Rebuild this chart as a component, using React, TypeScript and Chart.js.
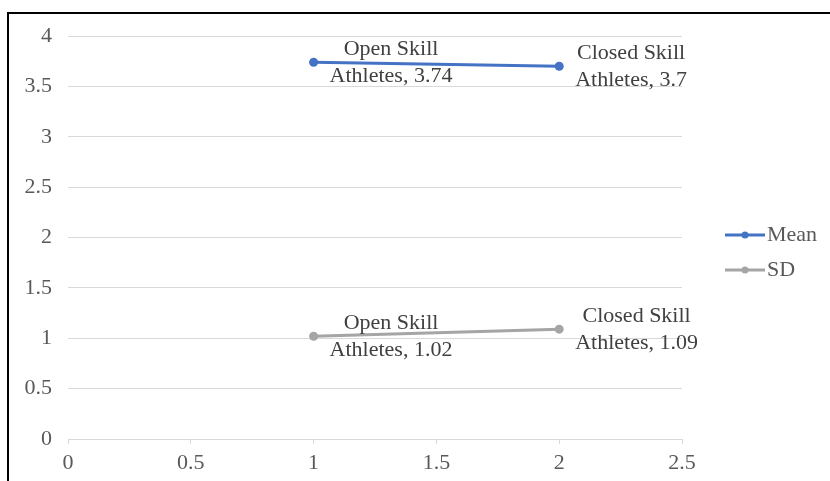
import React, { useEffect, useRef } from "react";
import { Chart, registerables } from "chart.js";

Chart.register(...registerables);

const seriesNames = ["Mean", "SD"];
const categoryNames = ["Open Skill Athletes", "Closed Skill Athletes"];
const xValues = [1, 2];
const meanValues = [3.74, 3.7];
const sdValues = [1.02, 1.09];
const seriesColors = ["#4472C4", "#A5A5A5"];

const FONT = "'Liberation Serif', 'Times New Roman', serif";

const labelPlugin = {
  id: "pointLabels",
  afterDatasetsDraw(chart: any) {
    const ctx = chart.ctx;
    ctx.save();
    ctx.font = `22px ${FONT}`;
    ctx.fillStyle = "#404040";
    ctx.textBaseline = "middle";
    ctx.textAlign = "center";
    chart.data.datasets.forEach((ds: any, di: number) => {
      const meta = chart.getDatasetMeta(di);
      meta.data.forEach((pt: any, i: number) => {
        const words = categoryNames[i].split(" ");
        const l1 = words.slice(0, 2).join(" ");
        const l2 = words.slice(2).join(" ") + ", " + ds.data[i].y;
        const w = Math.max(ctx.measureText(l1).width, ctx.measureText(l2).width);
        const cx = pt.x + 16 + w / 2;
        ctx.fillText(l1, cx, pt.y - 13);
        ctx.fillText(l2, cx, pt.y + 14);
      });
    });
    ctx.restore();
  },
};

const legendPlugin = {
  id: "customLegend",
  afterDraw(chart: any) {
    const ctx = chart.ctx;
    ctx.save();
    ctx.font = `22px ${FONT}`;
    ctx.textBaseline = "middle";
    ctx.textAlign = "left";
    const x0 = 725;
    const ys = [235, 270];
    seriesNames.forEach((name, i) => {
      const y = ys[i];
      ctx.strokeStyle = seriesColors[i];
      ctx.lineWidth = 3;
      ctx.beginPath();
      ctx.moveTo(x0, y);
      ctx.lineTo(x0 + 40, y);
      ctx.stroke();
      ctx.fillStyle = seriesColors[i];
      ctx.beginPath();
      ctx.arc(x0 + 20, y, 3.5, 0, Math.PI * 2);
      ctx.fill();
      ctx.fillStyle = "#595959";
      ctx.fillText(name, x0 + 42, y);
    });
    ctx.restore();
  },
};

const fmt = (v: any) => String(Number(v));

export default function App() {
  const ref = useRef<HTMLCanvasElement>(null);
  useEffect(() => {
    if (!ref.current) return;
    const chart = new Chart(ref.current, {
      type: "line",
      data: {
        datasets: [
          {
            label: seriesNames[0],
            data: xValues.map((x, i) => ({ x, y: meanValues[i] })),
            borderColor: seriesColors[0],
            backgroundColor: seriesColors[0],
            borderWidth: 3,
            pointRadius: 4.5,
            pointBorderWidth: 0,
          },
          {
            label: seriesNames[1],
            data: xValues.map((x, i) => ({ x, y: sdValues[i] })),
            borderColor: seriesColors[1],
            backgroundColor: seriesColors[1],
            borderWidth: 3,
            pointRadius: 4.5,
            pointBorderWidth: 0,
          },
        ],
      },
      options: {
        animation: false,
        responsive: false,
        layout: { padding: { left: 0, right: 148, top: 36, bottom: 0 } },
        plugins: { legend: { display: false }, tooltip: { enabled: false } },
        scales: {
          x: {
            type: "linear",
            min: 0,
            max: 2.5,
            ticks: { stepSize: 0.5, color: "#595959", font: { family: FONT, size: 22 }, padding: 6, maxRotation: 0, callback: fmt },
            grid: { drawOnChartArea: false, drawTicks: true, tickLength: 5, color: "#d9d9d9" },
            border: { display: true, color: "#d9d9d9", width: 1 },
            afterFit: (s: any) => { s.height = 42; },
          },
          y: {
            min: 0,
            max: 4,
            ticks: { stepSize: 0.5, color: "#595959", font: { family: FONT, size: 22 }, padding: 16, callback: fmt },
            grid: { drawTicks: false, color: "#d9d9d9" },
            border: { display: false },
            afterFit: (s: any) => { s.width = 68; },
          },
        },
      },
      plugins: [labelPlugin, legendPlugin],
    });
    return () => chart.destroy();
  }, []);
  return (
    <div style={{ position: "fixed", left: 0, top: 0, width: 830, height: 481, background: "#fff", overflow: "hidden" }}>
      <div style={{ position: "absolute", left: 7, top: 12, width: 900, height: 600, borderTop: "2px solid #000", borderLeft: "2px solid #000" }} />
      <canvas ref={ref} width={830} height={481} style={{ position: "absolute", left: 0, top: 0 }} />
    </div>
  );
}
